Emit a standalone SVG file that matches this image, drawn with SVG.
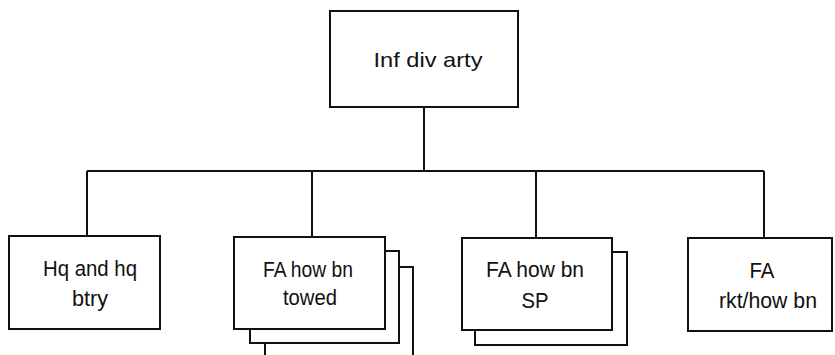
<svg xmlns="http://www.w3.org/2000/svg" width="835" height="355" viewBox="0 0 835 355">
<style>
.b{fill:#fff;stroke:#111;stroke-width:2}
.l{fill:none;stroke:#111;stroke-width:2}
text{font-family:"Liberation Sans","DejaVu Sans",sans-serif;font-size:22px;fill:#111;text-anchor:middle}
</style>
<rect width="835" height="355" fill="#fff"/>
<g id="connectors">
<path class="l" d="M424 107V171M87 171H764M87 171V236M312 171V237M536 171V238M764 171V238"/>
</g>
<g id="inf-div-arty">
<rect class="b" x="330" y="11" width="188" height="96"/>
<text x="428" y="67" style="font-size:21px" textLength="109" lengthAdjust="spacingAndGlyphs">Inf div arty</text>
</g>
<g id="hq">
<rect class="b" x="9" y="236" width="151" height="93"/>
<text x="90" y="276" textLength="94" lengthAdjust="spacingAndGlyphs">Hq and hq</text>
<text x="90" y="306" textLength="36" lengthAdjust="spacingAndGlyphs">btry</text>
</g>
<g id="fa-towed">
<path class="l" d="M265 343V356M399 267H413V356"/>
<rect class="b" x="250" y="251" width="149" height="92"/>
<rect class="b" x="234" y="237" width="151" height="92"/>
<text x="308" y="277" textLength="90" lengthAdjust="spacingAndGlyphs">FA how bn</text>
<text x="310" y="305" textLength="54" lengthAdjust="spacingAndGlyphs">towed</text>
</g>
<g id="fa-sp">
<rect class="b" x="475" y="252" width="152" height="93"/>
<rect class="b" x="462" y="238" width="150" height="92"/>
<text x="535" y="277" textLength="98" lengthAdjust="spacingAndGlyphs">FA how bn</text>
<text x="535" y="308" textLength="27" lengthAdjust="spacingAndGlyphs">SP</text>
</g>
<g id="fa-rkt">
<rect class="b" x="688" y="238" width="144" height="93"/>
<text x="762" y="278" textLength="25" lengthAdjust="spacingAndGlyphs">FA</text>
<text x="768" y="308" textLength="98" lengthAdjust="spacingAndGlyphs">rkt/how bn</text>
</g>
</svg>
